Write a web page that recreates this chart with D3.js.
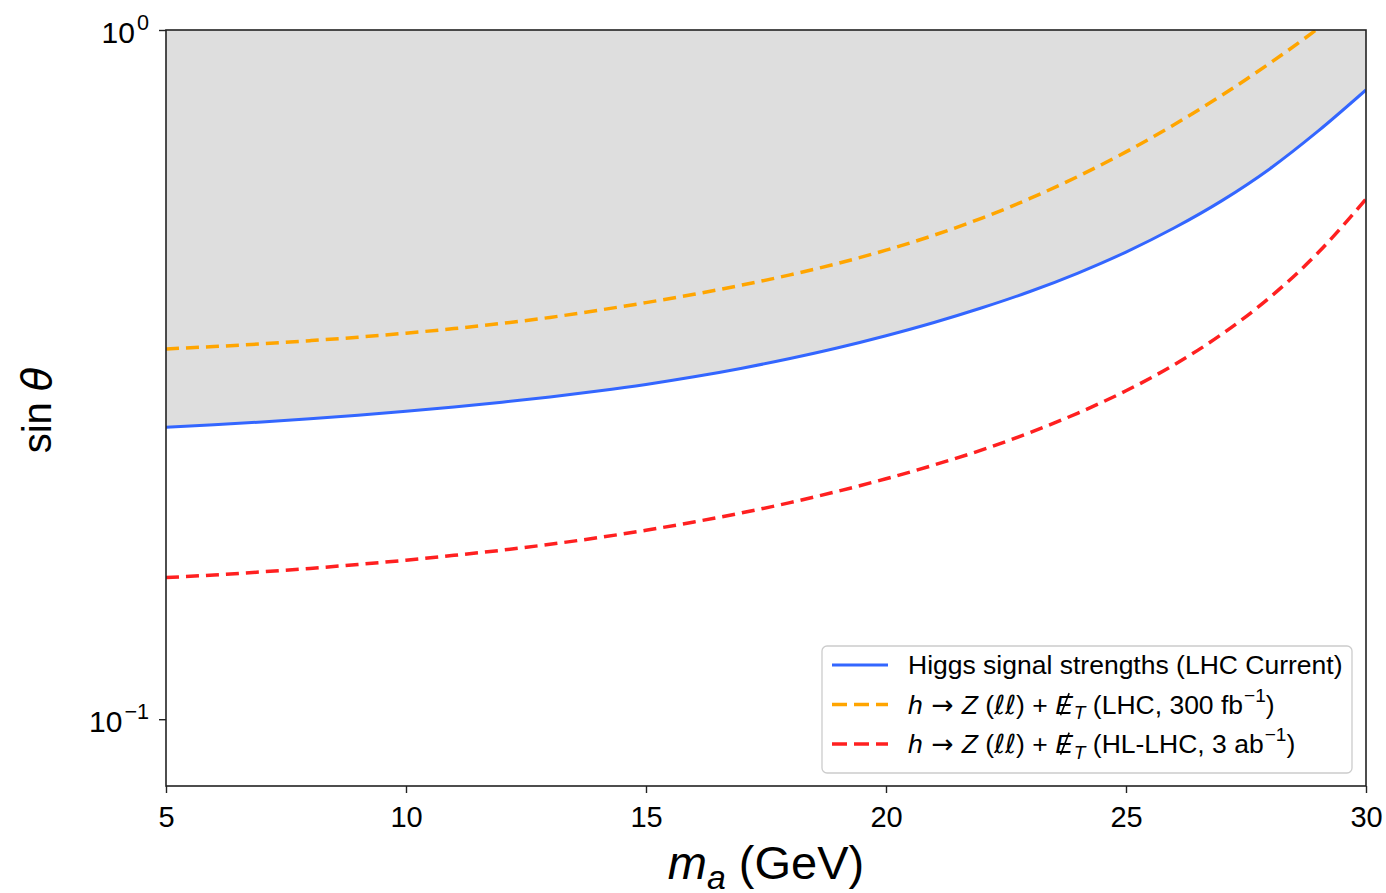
<!DOCTYPE html>
<html>
<head>
<meta charset="utf-8">
<script src="https://cdn.jsdelivr.net/npm/d3@7"></script>
<style>
  body { margin: 0; background: #fff; }
  svg { font-family: "Liberation Sans", Arial, Helvetica, sans-serif; }
  text { white-space: pre; }
</style>
</head>
<body>
<svg id="chart" width="1386" height="893"></svg>
<script>
// m_a (GeV)
const massGeV = [5, 6, 7, 8, 9, 10, 11, 12, 13, 14, 15, 16, 17, 18, 19, 20, 21, 22, 23, 24, 25, 26, 27, 28, 29, 30];
// Higgs signal strengths (LHC current) -- solid blue, shaded above
const higgsSignal = [0.2652, 0.2674, 0.2699, 0.2728, 0.2761, 0.2798, 0.2839, 0.2884, 0.2934, 0.2993,
  0.3060, 0.3139, 0.3231, 0.3337, 0.3459, 0.3601, 0.3764, 0.3953, 0.4174, 0.4440,
  0.4762, 0.5160, 0.5655, 0.6292, 0.7131, 0.8185];
// h -> Z(ll) + MET, LHC 300 fb^-1
const lhc300 = [0.3445, 0.3473, 0.3505, 0.3542, 0.3583, 0.3632, 0.3688, 0.3753, 0.3828, 0.3920,
  0.4022, 0.4136, 0.4265, 0.4413, 0.4586, 0.4792, 0.5038, 0.5335, 0.5696, 0.6131,
  0.6655, 0.7287, 0.8042, 0.8953, 1.0048, 1.1373];
// h -> Z(ll) + MET, HL-LHC 3 ab^-1
const hllhc3 = [0.1605, 0.1619, 0.1636, 0.1655, 0.1677, 0.1701, 0.1729, 0.1759, 0.1794, 0.1834,
  0.1880, 0.1933, 0.1993, 0.2062, 0.2142, 0.2233, 0.2338, 0.2459, 0.2606, 0.2781,
  0.2996, 0.3267, 0.3621, 0.4094, 0.4750, 0.5687];

const xTicks = [5, 10, 15, 20, 25, 30];
const xMinorTicks = [5, 6, 7, 8, 9, 10, 11, 12, 13, 14, 15, 16, 17, 18, 19, 20, 21, 22, 23, 24, 25, 26, 27, 28, 29, 30];
const yTicks = [0.1, 1];
const yTickExp = ['\u22121', '0'];
const yMinorTicks = [0.08, 0.09, 0.2, 0.3, 0.4, 0.5, 0.6, 0.7, 0.8, 0.9];

const plot = { left: 166, right: 1366, top: 30, bottom: 786 };
const ink = '#222';

const svg = d3.select('#chart');

const x = d3.scaleLinear().domain([5, 30]).range([plot.left, plot.right]);
const y = d3.scaleLog().domain([0.08, 1]).range([plot.bottom, plot.top]);

// writes text made of parts {t, it, sub, sup, font, dx, cls}
function richText(sel, parts, size) {
  let shift = 0;
  parts.forEach(p => {
    const ts = sel.append('tspan').text(p.t);
    let target = 0;
    if (p.sub) { target = size * 0.22; ts.attr('font-size', size * 0.72); }
    if (p.sup) { target = -size * 0.45; ts.attr('font-size', size * 0.72); }
    if (p.it) ts.attr('font-style', 'italic');
    if (p.font) ts.attr('font-family', p.font);
    if (p.dx) ts.attr('dx', p.dx);
    if (p.cls) ts.attr('class', p.cls);
    if (target !== shift) ts.attr('dy', target - shift);
    shift = target;
  });
}

svg.append('defs').append('clipPath').attr('id', 'clip')
  .append('rect')
  .attr('x', plot.left).attr('y', plot.top)
  .attr('width', plot.right - plot.left).attr('height', plot.bottom - plot.top);

const rows = massGeV.map((m, i) => ({ m, higgs: higgsSignal[i], lhc: lhc300[i], hl: hllhc3[i] }));

const g = svg.append('g').attr('clip-path', 'url(#clip)');

// excluded region
g.append('path')
  .datum(rows)
  .attr('fill', '#dedede')
  .attr('d', d3.area().x(d => x(d.m)).y0(y(1)).y1(d => y(d.higgs)).curve(d3.curveMonotoneX));

const series = [
  { key: 'higgs', color: '#3366ff', width: 3, dash: null },
  { key: 'lhc', color: '#ffa500', width: 3.5, dash: '13,7' },
  { key: 'hl', color: '#ff2020', width: 3.5, dash: '13,7' }
];

series.forEach(s => {
  g.append('path')
    .datum(rows)
    .attr('fill', 'none')
    .attr('stroke', s.color)
    .attr('stroke-width', s.width)
    .attr('stroke-dasharray', s.dash)
    .attr('d', d3.line().x(d => x(d.m)).y(d => y(d[s.key])).curve(d3.curveMonotoneX));
});

// axes
const xAxis = svg.append('g').attr('transform', `translate(0,${plot.bottom})`);
xAxis.call(d3.axisBottom(x).tickValues(xMinorTicks).tickSize(4).tickFormat(''));
xAxis.call(d3.axisBottom(x).tickValues(xTicks).tickSize(7).tickPadding(13).tickFormat(d3.format('d')));
xAxis.selectAll('.domain').remove();
xAxis.selectAll('line').attr('stroke', ink).attr('stroke-width', 1.4);
xAxis.selectAll('text').attr('font-size', 29).attr('fill', '#000')
  .attr('font-family', '"Liberation Sans", Arial, sans-serif');

const yAxis = svg.append('g').attr('transform', `translate(${plot.left},0)`);
yAxis.call(d3.axisLeft(y).tickValues(yMinorTicks).tickSize(4).tickFormat(''));
yAxis.call(d3.axisLeft(y).tickValues(yTicks).tickSize(7).tickFormat(''));
yAxis.selectAll('.domain').remove();
yAxis.selectAll('line').attr('stroke', ink).attr('stroke-width', 1.4);

yTicks.forEach((v, i) => {
  const t = svg.append('text')
    .attr('x', 149).attr('y', y(v) + 13)
    .attr('text-anchor', 'end')
    .attr('font-size', 30);
  richText(t, [{ t: '10' }, { t: yTickExp[i], sup: true, dx: 2 }], 30);
});

// frame
svg.append('rect')
  .attr('x', plot.left).attr('y', plot.top)
  .attr('width', plot.right - plot.left).attr('height', plot.bottom - plot.top)
  .attr('fill', 'none').attr('stroke', ink).attr('stroke-width', 1.6);

// axis titles
const xt = svg.append('text')
  .attr('x', 766).attr('y', 879)
  .attr('text-anchor', 'middle').attr('font-size', 47);
richText(xt, [{ t: 'm', it: true }, { t: 'a', it: true, sub: true }, { t: ' (GeV)' }], 47);

const yt = svg.append('text')
  .attr('transform', 'translate(51,410) rotate(-90)')
  .attr('text-anchor', 'middle').attr('font-size', 40);
richText(yt, [{ t: 'sin ' }, { t: '\u03b8', it: true, font: '"DejaVu Sans", sans-serif' }], 40);

// legend
const legend = svg.append('g');
legend.append('rect')
  .attr('x', 822).attr('y', 646).attr('width', 530).attr('height', 127)
  .attr('rx', 5).attr('fill', '#fff').attr('fill-opacity', 0.85)
  .attr('stroke', '#cccccc').attr('stroke-width', 1.3);

const mathFont = '"DejaVu Sans", sans-serif';
// missing E_T: italic E, the slash is drawn afterwards as a line
function processLabel(tail) {
  return [{ t: 'h', it: true }, { t: ' \u2192 ', font: mathFont }, { t: 'Z', it: true }, { t: ' (' },
    { t: '\u2113\u2113', it: true, font: mathFont }, { t: ') + ' }, { t: 'E', it: true, cls: 'slashed' },
    { t: 'T', it: true, sub: true, dx: 1 }, { t: tail },
    { t: '\u22121', sup: true, dx: 1 }, { t: ')' }];
}
const legendText = [
  [{ t: 'Higgs signal strengths (LHC Current)' }],
  processLabel(' (LHC, 300 fb'),
  processLabel(' (HL-LHC, 3 ab')
];

series.forEach((s, i) => {
  const cy = 665 + i * 39.5;
  legend.append('line')
    .attr('x1', 832).attr('x2', 888).attr('y1', cy).attr('y2', cy)
    .attr('stroke', s.color).attr('stroke-width', s.width)
    .attr('stroke-dasharray', s.dash ? '15,7' : null);
  const t = legend.append('text')
    .attr('x', 908).attr('y', cy + 9)
    .attr('font-size', 26.5);
  richText(t, legendText[i], 26.5);
});

legend.selectAll('tspan.slashed').each(function() {
  const b = this.getBBox();
  const top = b.y + b.height * 0.12, bot = b.y + b.height * 0.86;
  legend.append('line')
    .attr('x1', b.x + b.width * 0.3).attr('y1', bot)
    .attr('x2', b.x + b.width * 0.78).attr('y2', top)
    .attr('stroke', '#000').attr('stroke-width', 1.6);
});
</script>
</body>
</html>
